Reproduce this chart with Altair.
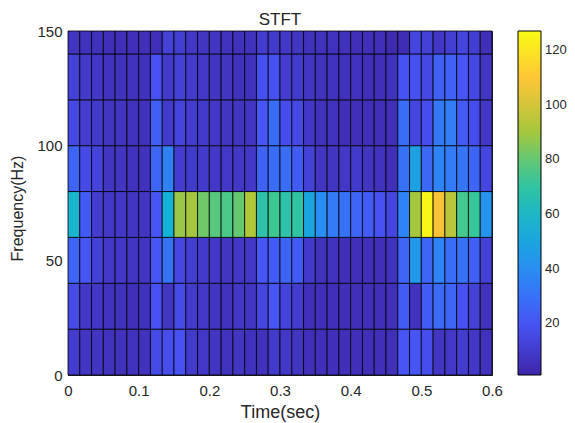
import altair as alt
import pandas as pd

row_0_20 = [10,7,7,6,6,6,6,16,17,18,9,8,7,6,7,6,6,9,8,7,5,5,5,5,5,5,5,5,20,20,17,7,8,10,8,6]
row_20_40 = [16,8,8,6,6,5,6,18,7,16,9,8,7,6,8,7,14,20,13,10,5,5,5,5,5,5,5,5,22,6,22,27,25,18,12,6]
row_40_60 = [25,20,12,8,8,7,7,20,30,14,11,9,8,7,8,8,20,22,25,22,9,6,6,5,5,5,5,6,25,44,25,36,28,30,23,12]
row_60_80 = [58,22,10,8,8,7,7,20,55,88,90,82,78,76,80,92,68,74,68,70,50,40,33,30,25,22,18,14,36,90,125,108,94,75,72,42]
row_80_100 = [25,16,13,7,7,6,6,25,35,10,9,9,8,8,8,8,24,28,28,22,12,7,7,8,9,7,6,5,30,48,26,36,33,31,25,14]
row_100_120 = [15,10,9,7,7,6,6,23,9,13,10,9,8,7,7,7,20,28,17,15,8,6,6,5,5,5,5,5,28,14,17,32,34,22,17,8]
row_120_140 = [12,9,8,6,6,6,6,18,9,12,9,8,7,7,6,6,18,18,10,9,7,6,6,6,6,5,5,6,19,18,15,24,24,20,15,7]
row_140_150 = [7,6,6,5,5,5,5,5,12,11,8,7,7,6,6,6,10,9,8,7,6,6,6,6,5,5,5,3,4,14,12,8,11,14,11,5]

rows = [row_0_20, row_20_40, row_40_60, row_60_80, row_80_100, row_100_120, row_120_140, row_140_150]
freq_edges = [0, 20, 40, 60, 80, 100, 120, 140, 150]
n_cols = 36
t_end = 0.6
parula = ["#3E26A8", "#4752F4", "#2D87F7", "#12B1D6", "#37C897", "#ABC739", "#FEC338", "#F9FB14"]
color_min, color_max = 1, 127
cb_ticks = [20, 40, 60, 80, 100, 120]

records = []
for r, vals in enumerate(rows):
    for c, v in enumerate(vals):
        records.append({
            "t0": c * t_end / n_cols, "t1": (c + 1) * t_end / n_cols,
            "f0": freq_edges[r], "f1": freq_edges[r + 1], "v": v,
        })
df = pd.DataFrame(records)

FONT = "Liberation Sans"
TXT = "#262626"

chart = (
    alt.Chart(df)
    .mark_rect(stroke="#000000", strokeWidth=1, strokeOpacity=0.8)
    .encode(
        x=alt.X("t0:Q", scale=alt.Scale(domain=[0, t_end], nice=False),
                axis=alt.Axis(title="Time(sec)", values=[0, 0.1, 0.2, 0.3, 0.4, 0.5, 0.6],
                              labelExpr="datum.value == 0 ? '0' : format(datum.value, '.1f')",
                              ticks=False, grid=False, labelFlush=False, labelPadding=8,
                              titlePadding=5, titleFontSize=18)),
        x2="t1:Q",
        y=alt.Y("f0:Q", scale=alt.Scale(domain=[0, 150], nice=False),
                axis=alt.Axis(title="Frequency(Hz)", values=[0, 50, 100, 150],
                              ticks=False, grid=False, labelPadding=6, titlePadding=11, titleY=177)),
        y2="f1:Q",
        color=alt.Color("v:Q",
                        scale=alt.Scale(domain=[color_min, color_max], range=parula,
                                        interpolate="rgb", nice=False, clamp=True),
                        legend=alt.Legend(title=None, orient="none", legendX=450, legendY=0,
                                          gradientLength=344, gradientThickness=23,
                                          gradientStrokeColor="#000000", gradientStrokeWidth=1,
                                          values=cb_ticks, labelFontSize=13, labelColor=TXT,
                                          labelFont=FONT, labelOffset=4)),
    )
    .properties(
        width=424, height=344,
        title=alt.TitleParams("STFT", fontSize=17, fontWeight="normal", font=FONT, color=TXT, offset=-5),
        autosize=alt.AutoSizeParams(type="none"),
        padding={"left": 60, "top": 23, "right": 75, "bottom": 48},
    )
    .configure_axis(domainColor="#262626", domainWidth=1, labelFont=FONT, titleFont=FONT,
                    labelFontSize=15, titleFontSize=16, labelColor=TXT, titleColor=TXT, titleFontWeight="normal")
    .configure_view(stroke="#262626", strokeWidth=1)
)

chart.save("out.html", embed_options={"renderer": "svg", "actions": False})
